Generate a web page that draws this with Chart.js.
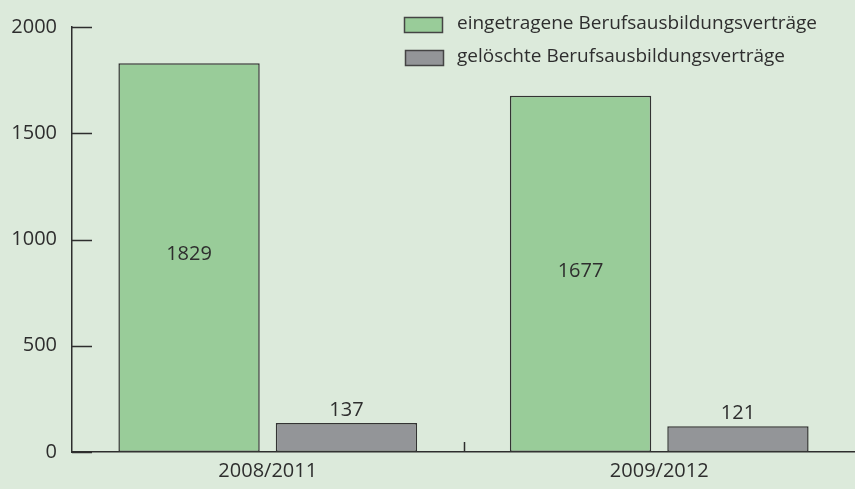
<!DOCTYPE html>
<html>
<head>
<meta charset="utf-8">
<script src="https://cdn.jsdelivr.net/npm/chart.js@4.4.0/dist/chart.umd.min.js"></script>
<style>
  html, body { margin: 0; padding: 0; background: #dceadb; }
  #wrap { width: 855px; height: 489px; position: relative; }
</style>
</head>
<body>
<div id="wrap"><canvas id="chart"></canvas></div>
<script>
const categories = ["2008/2011", "2009/2012"];
const seriesNames = ["eingetragene Berufsausbildungsverträge", "gelöschte Berufsausbildungsverträge"];
const registered = [1829, 1677];
const deleted = [137, 121];
const yTicks = [0, 500, 1000, 1500, 2000];

const FONT = "'Open Sans', sans-serif";
const INK = "#2e2e2e";

//draws the short tick marks that point into the plot, like the original
const innerTicks = {
  id: "innerTicks",
  afterDraw(chart) {
    const ctx = chart.ctx;
    const y = chart.scales.y;
    const x = chart.scales.x;
    ctx.save();
    ctx.strokeStyle = INK;
    ctx.lineWidth = 1.5;
    ctx.beginPath();
    for (const v of yTicks) {
      const py = Math.round(y.getPixelForValue(v)) + 0.5;
      ctx.moveTo(y.right, py);
      ctx.lineTo(y.right + 20, py);
    }
    for (let i = 0; i < categories.length - 1; i++) {
      const px = Math.round((x.getPixelForValue(i) + x.getPixelForValue(i + 1)) / 2) + 0.5;
      ctx.moveTo(px, x.top);
      ctx.lineTo(px, x.top - 10);
    }
    ctx.stroke();
    ctx.restore();
  },
};

//value labels: inside the tall bars, above the small ones
const valueLabels = {
  id: "valueLabels",
  afterDatasetsDraw(chart) {
    const ctx = chart.ctx;
    ctx.save();
    ctx.font = "20px " + FONT;
    ctx.fillStyle = INK;
    ctx.textAlign = "center";
    chart.data.datasets.forEach((ds, di) => {
      chart.getDatasetMeta(di).data.forEach((bar, i) => {
        const v = ds.data[i];
        if (di === 0) {
          ctx.textBaseline = "middle";
          ctx.fillText(v, bar.x, (bar.y + bar.base) / 2 - 3);
        } else {
          ctx.textBaseline = "alphabetic";
          ctx.fillText(v, bar.x, bar.y - 7);
        }
      });
    });
    ctx.restore();
  },
};

//legend in the top right corner, drawn over the plot
const cornerLegend = {
  id: "cornerLegend",
  afterDraw(chart) {
    const ctx = chart.ctx;
    ctx.save();
    ctx.font = "19px " + FONT;
    ctx.textBaseline = "middle";
    ctx.textAlign = "left";
    chart.data.datasets.forEach((ds, i) => {
      const top = 17 + i * 33;
      ctx.fillStyle = ds.backgroundColor;
      ctx.fillRect(404.5 + i, top + 0.5, 38, 15);
      ctx.strokeStyle = "#444";
      ctx.lineWidth = 1.5;
      ctx.strokeRect(404.5 + i, top + 0.5, 38, 15);
      ctx.fillStyle = INK;
      ctx.fillText(ds.label, 457, top + 7);
    });
    ctx.restore();
  },
};

new Chart(document.getElementById("chart"), {
  type: "bar",
  plugins: [innerTicks, valueLabels, cornerLegend],
  data: {
    labels: categories,
    datasets: [
      {
        label: seriesNames[0],
        data: registered,
        backgroundColor: "#99cc99",
        borderColor: "#333",
        borderWidth: 1.5,
        borderSkipped: false,
      },
      {
        label: seriesNames[1],
        data: deleted,
        backgroundColor: "#939598",
        borderColor: "#333",
        borderWidth: 1.5,
        borderSkipped: false,
      },
    ],
  },
  options: {
    responsive: true,
    maintainAspectRatio: false,
    animation: false,
    layout: { padding: { top: 25, right: 0, bottom: 0, left: 0 } },
    datasets: { bar: { categoryPercentage: 0.804, barPercentage: 0.898 } },
    plugins: {
      legend: { display: false },
      tooltip: { enabled: false },
    },
    scales: {
      x: {
        afterFit: (s) => { s.height = 37; },
        grid: { display: false, drawTicks: false },
        border: { display: true, color: INK, width: 1.5 },
        ticks: { color: INK, font: { family: FONT, size: 20 }, padding: 7 },
      },
      y: {
        min: 0,
        max: 2000,
        afterFit: (s) => { s.width = 72; },
        afterBuildTicks: (s) => { s.ticks = yTicks.map((v) => ({ value: v })); },
        grid: { display: false, drawTicks: false },
        border: { display: true, color: INK, width: 1.5 },
        ticks: {
          color: INK,
          font: { family: FONT, size: 20 },
          padding: 15,
          callback: (v) => String(v),
        },
      },
    },
  },
});
</script>
</body>
</html>
